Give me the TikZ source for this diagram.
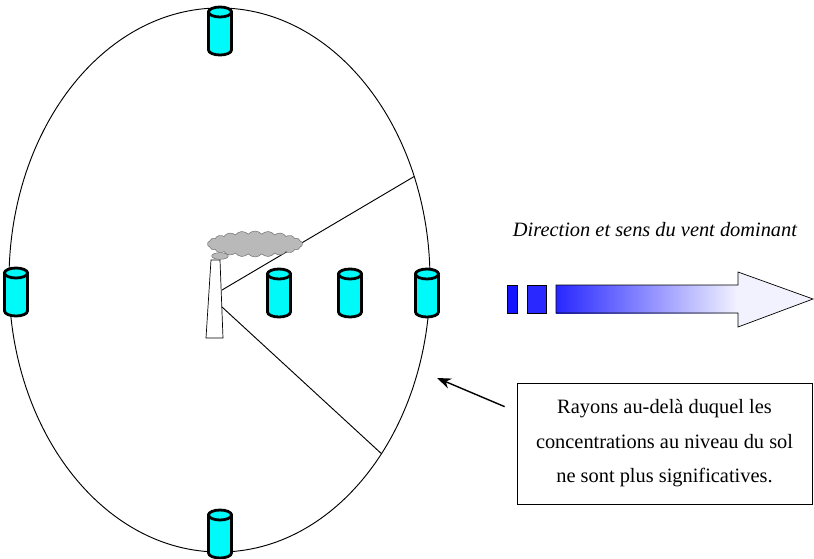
\documentclass[tikz,border=0pt]{standalone}
\usepackage{fontspec}
\setmainfont{Liberation Serif}
\usetikzlibrary{shapes.geometric, shapes.symbols, arrows.meta}

\definecolor{windblue}{RGB}{40,40,255}
\definecolor{windpale}{RGB}{242,242,255}
\definecolor{samplercol}{RGB}{0,250,250}

\tikzset{
  sampler/.pic={
    \draw[line width=2.4pt, fill=samplercol] (-11.5,-19) -- (-11.5,19)
      arc[start angle=180, end angle=0, x radius=11.5, y radius=5] -- (11.5,-19) -- cycle;
    \draw[line width=2.4pt, fill=samplercol] (0,-19) ellipse[x radius=11.5, y radius=5];
    \coordinate (-c) at (0,0);
  },
  textfont/.style={font=\fontsize{17.4}{29.5}\selectfont}
}

\begin{document}
\begin{tikzpicture}[x=0.03cm, y=-0.03cm]
    \useasboundingbox (0,0) rectangle (814,558);

    % Zone around the plant
    \node[ellipse, draw, line width=0.8pt, minimum width=12.63cm, minimum height=16.32cm,
      inner sep=0pt, outer sep=0pt] (zone) at (219.5,280) {};

    % Downwind sector
    \coordinate (stackUp) at (222,290);
    \coordinate (stackDown) at (222,307);
    \draw[line width=0.8pt] (stackUp) -- (zone.28);
    \draw[line width=0.8pt] (stackDown) -- (zone.-47);

    % Stack
    \draw[fill=white, line width=0.6pt] (206,338) -- (211,260) -- (220,260) -- (223,338) -- cycle;
    \node[ellipse, fill=gray!55, draw=gray!85!black, line width=0.4pt, minimum width=0.5cm,
      minimum height=0.2cm, inner sep=0pt] (puff) at (220,256) {};
    \node[cloud, cloud puffs=22, cloud puff arc=100, aspect=3.6, fill=gray!55, draw=gray!85!black,
      line width=0.4pt, minimum width=2.85cm, minimum height=0.78cm, inner sep=0pt] (smoke) at (255,244) {};

    % Samplers
    \pic (north) at (220,31) {sampler};
    \pic (south) at (220,534) {sampler};
    \pic (west) at (16,292) {sampler};
    \pic (near) at (279,293) {sampler};
    \pic (mid) at (350,293) {sampler};
    \pic (far) at (427,293) {sampler};

    % Prevailing wind
    \node[font=\itshape\fontsize{17.4}{28}\selectfont] (windlabel) at (655,230)
      {Direction et sens du vent dominant};
    \draw[fill={rgb,255:red,20;green,20;blue,255}, line width=0.6pt] (507,285) rectangle (517,313);
    \draw[fill=windblue, line width=0.6pt] (527,285) rectangle (546,313);
    \fill[windpale] (556,285) -- (738,285) -- (738,272) -- (813,299) -- (738,327) -- (738,313)
      -- (556,313) -- cycle;
    \shade[left color=windblue, right color=windpale] (556,285) rectangle (738,313);
    \draw[line width=0.6pt] (556,285) -- (738,285) -- (738,272) -- (813,299) -- (738,327)
      -- (738,313) -- (556,313) -- cycle;

    % Note
    \node[draw, line width=0.6pt, align=center, textfont, minimum width=8.85cm,
      minimum height=3.63cm] (note) at (664.5,443.5)
      {Rayons au-delà duquel les\\concentrations au niveau du sol\\ne sont plus significatives.};
    \coordinate (edge) at (437,378);
    \draw[-{Stealth[length=12pt, width=9pt]}, line width=1.2pt] ([shift={(-12,24)}]note.north west) -- (edge);
\end{tikzpicture}
\end{document}
